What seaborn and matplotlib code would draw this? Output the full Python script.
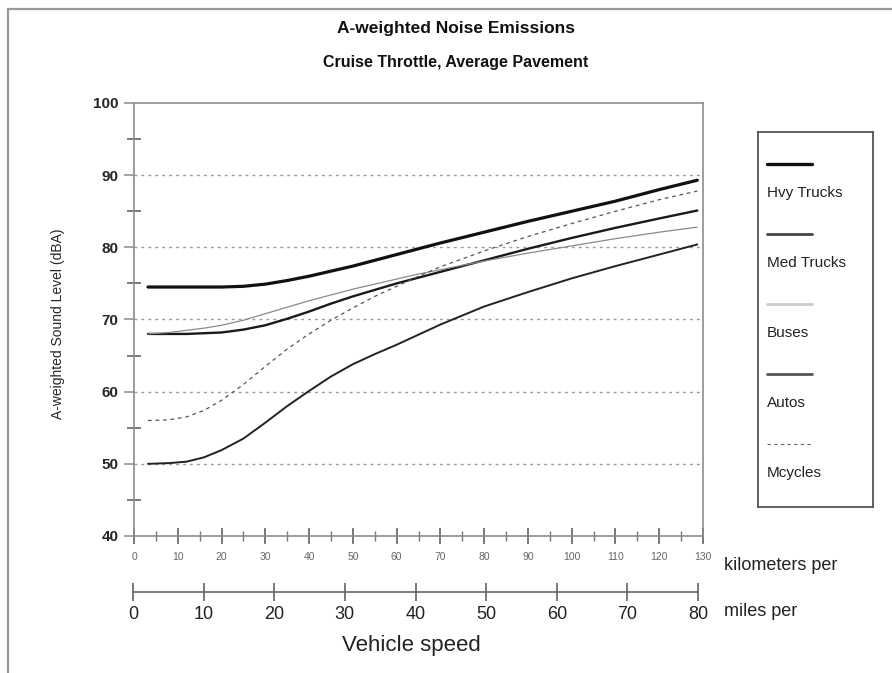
import matplotlib
matplotlib.use("Agg")
import matplotlib.pyplot as plt
import seaborn as sns
from matplotlib.lines import Line2D

# speed in km/h (2 to 80 mph) and A-weighted level in dBA
speed_km = [3.2, 8, 12, 16, 20, 25, 30, 35, 40, 45, 50, 55, 60, 65, 70, 80, 90, 100, 110, 120, 128.7]
hvy_trucks = [74.5, 74.5, 74.5, 74.5, 74.5, 74.6, 74.9, 75.4, 76.0, 76.7, 77.4, 78.2, 79.0, 79.8, 80.6,
              82.1, 83.6, 85.0, 86.4, 88.0, 89.3]
med_trucks = [68.0, 68.0, 68.0, 68.1, 68.2, 68.6, 69.2, 70.1, 71.1, 72.2, 73.2, 74.1, 75.0, 75.8, 76.6,
              78.2, 79.8, 81.3, 82.7, 84.0, 85.1]
buses = [68.0, 68.2, 68.5, 68.8, 69.2, 69.9, 70.8, 71.7, 72.6, 73.4, 74.2, 74.9, 75.6, 76.3, 76.9,
         78.1, 79.2, 80.2, 81.2, 82.1, 82.8]
autos = [50.0, 50.1, 50.3, 50.9, 51.9, 53.5, 55.7, 58.0, 60.1, 62.1, 63.8, 65.2, 66.5, 67.9, 69.3,
         71.8, 73.8, 75.7, 77.4, 79.0, 80.4]
mcycles = [56.0, 56.1, 56.5, 57.4, 58.8, 61.0, 63.5, 65.9, 68.0, 69.9, 71.6, 73.2, 74.6, 76.0, 77.3,
           79.5, 81.5, 83.3, 85.0, 86.6, 87.8]

series_names = ["Hvy Trucks", "Med Trucks", "Buses", "Autos", "Mcycles"]
series_values = [hvy_trucks, med_trucks, buses, autos, mcycles]

km_ticks = list(range(0, 131, 10))
mph_ticks = list(range(0, 81, 10))
y_ticks = list(range(40, 101, 10))

# plot styles and legend styles (legend swatches look a bit different in the original)
plot_style = {
    "Hvy Trucks": dict(color="#111111", linewidth=2.3, linestyle="-"),
    "Med Trucks": dict(color="#1a1a1a", linewidth=1.7, linestyle="-"),
    "Buses": dict(color="#8a8a8a", linewidth=0.9, linestyle="-"),
    "Autos": dict(color="#222222", linewidth=1.4, linestyle="-"),
    "Mcycles": dict(color="#555555", linewidth=0.9, linestyle=(0, (3, 3))),
}
legend_style = {
    "Hvy Trucks": dict(color="#111111", linewidth=2.4, linestyle="-"),
    "Med Trucks": dict(color="#444444", linewidth=2.0, linestyle="-"),
    "Buses": dict(color="#cccccc", linewidth=2.0, linestyle="-"),
    "Autos": dict(color="#555555", linewidth=2.0, linestyle="-"),
    "Mcycles": dict(color="#666666", linewidth=0.8, linestyle=(0, (3, 3))),
}

sns.set_style("white")
plt.rcParams["font.family"] = ["Liberation Sans", "DejaVu Sans"]

W, H = 892, 673
fig = plt.figure(figsize=(W / 100, H / 100), dpi=100)


def fx(px):
    return px / W


def fy(py):
    return 1 - py / H


# outer frame of the original screenshot
fig.add_artist(Line2D([fx(8), 1], [fy(9), fy(9)], color="#999999", lw=1.6, transform=fig.transFigure))
fig.add_artist(Line2D([fx(8), fx(8)], [fy(9), 0], color="#999999", lw=1.6, transform=fig.transFigure))

# main axes
ax = fig.add_axes([fx(134), fy(536), fx(703) - fx(134), fy(103) - fy(536)])
for name, vals in zip(series_names, series_values):
    sns.lineplot(x=speed_km, y=vals, ax=ax, **plot_style[name])

ax.set_xlim(0, 130)
ax.set_ylim(40, 100)
for y in y_ticks[1:-1]:
    ax.axhline(y, color="#9a9a9a", lw=1.0, linestyle=(0, (2, 3)), zorder=0)

for s in ax.spines.values():
    s.set_color("#8c8c8c")
    s.set_linewidth(1.2)

ax.set_yticks(y_ticks)
ax.set_yticks(list(range(45, 100, 10)), minor=True)
ax.tick_params(axis="y", which="major", direction="out", length=7, width=1.1, color="#8c8c8c",
               pad=4, labelsize=11, left=True)
ax.tick_params(axis="y", which="minor", direction="inout", length=10, width=1.1, color="#555555", left=True)
for t in ax.get_yticklabels():
    t.set_fontweight("bold")

ax.set_xticks(km_ticks)
ax.set_xticks(list(range(5, 130, 10)), minor=True)
ax.tick_params(axis="x", which="major", direction="inout", length=11, width=1.1, color="#555555",
               pad=6, labelsize=7.5, labelcolor="#666666", bottom=True)
ax.tick_params(axis="x", which="minor", direction="inout", length=6.5, width=1.0, color="#777777", bottom=True)
ax.set_xlabel("")
ax.set_ylabel("A-weighted Sound Level (dBA)", fontsize=10, labelpad=8)
ax.yaxis.set_label_coords(-0.122, 0.49)

# miles-per-hour scale
ax2 = fig.add_axes([fx(133), fy(591.7), fx(698) - fx(133), 0.0001])
ax2.set_xlim(0, 80)
ax2.set_ylim(0, 1)
for side in ["top", "left", "right"]:
    ax2.spines[side].set_visible(False)
ax2.spines["bottom"].set_color("#666666")
ax2.spines["bottom"].set_linewidth(1.2)
ax2.set_yticks([])
ax2.set_xticks(mph_ticks)
ax2.tick_params(axis="x", direction="inout", length=13, width=1.1, color="#555555", pad=4,
                labelsize=13, labelcolor="#222222", bottom=True)
ax2.set_facecolor("none")

fig.text(fx(724), fy(565), "kilometers per", fontsize=13, va="center", ha="left", color="#222222")
fig.text(fx(724), fy(611.7), "miles per", fontsize=13, va="center", ha="left", color="#222222")
fig.text(fx(411), fy(645), "Vehicle speed", fontsize=16, va="center", ha="center", color="#222222")

fig.text(fx(456), fy(29), "A-weighted Noise Emissions", fontsize=12.5, fontweight="bold",
         ha="center", va="center", color="#111111")
fig.text(fx(456), fy(62), "Cruise Throttle, Average Pavement", fontsize=11.5, fontweight="bold",
         ha="center", va="center", color="#111111")

# legend box
leg = fig.add_axes([fx(757.7), fy(506.7), fx(873.3) - fx(757.7), fy(131.7) - fy(506.7)])
leg.set_xlim(0, 1)
leg.set_ylim(0, 1)
leg.set_xticks([])
leg.set_yticks([])
for s in leg.spines.values():
    s.set_color("#555555")
    s.set_linewidth(1.3)
box_h = 506.7 - 131.7
for i, name in enumerate(series_names):
    line_y = (506.7 - (164.3 + i * 70)) / box_h
    text_y = (506.7 - (193.3 + i * 70)) / box_h
    leg.add_line(Line2D([0.078, 0.466], [line_y, line_y], **legend_style[name]))
    leg.text(0.078, text_y, name, fontsize=11, va="center", ha="left", color="#222222")

fig.savefig("out.png", dpi=100)
